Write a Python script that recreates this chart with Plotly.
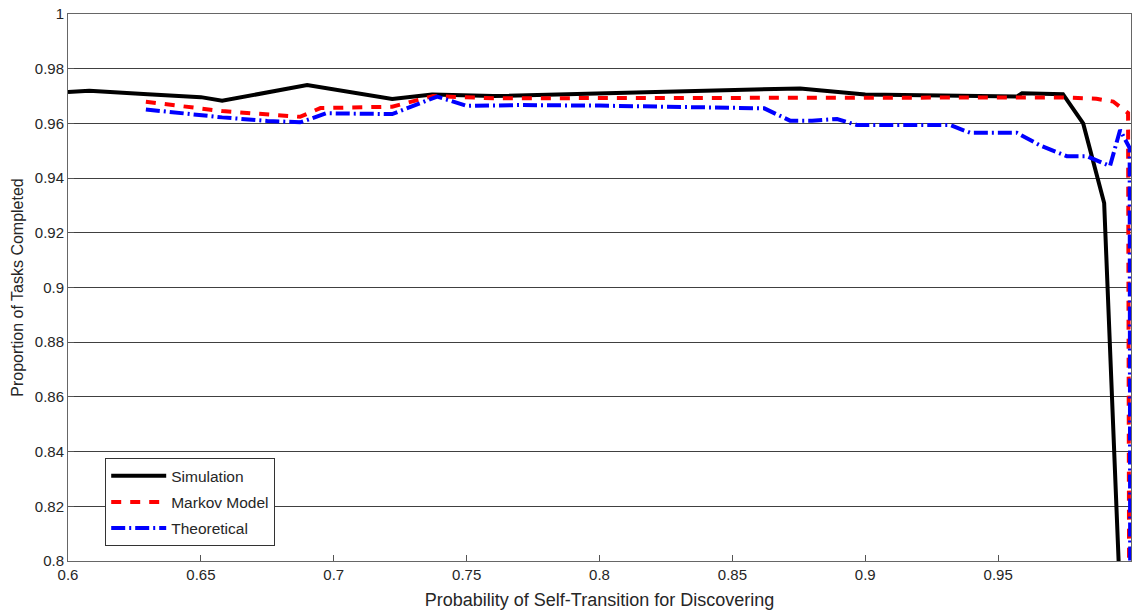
import plotly.graph_objects as go

# Simulation (black solid)
sim_x = [0.6, 0.608, 0.63, 0.65, 0.658, 0.69, 0.722, 0.737, 0.76, 0.8, 0.84, 0.8755, 0.9, 0.93, 0.957, 0.959, 0.9744, 0.982, 0.9899, 0.997]
sim_y = [0.9715, 0.9719, 0.9707, 0.9696, 0.9683, 0.974, 0.9689, 0.9706, 0.9700, 0.9710, 0.9722, 0.9728, 0.9706, 0.9700, 0.9698, 0.9710, 0.9707, 0.960, 0.9309, 0.76]

# Markov Model (red dashed)
markov_x = [0.6293, 0.658, 0.6873, 0.695, 0.722, 0.7374, 0.76, 0.8, 0.9, 0.975, 0.987, 0.9933, 0.9989, 0.9995]
markov_y = [0.9679, 0.9645, 0.9624, 0.9656, 0.9661, 0.9700, 0.9692, 0.9693, 0.9694, 0.9695, 0.969, 0.968, 0.9638, 0.70]

# Theoretical (blue dash-dot)
theo_x = [0.6293, 0.658, 0.675, 0.6873, 0.692, 0.697, 0.722, 0.7389, 0.7501, 0.77, 0.8, 0.85, 0.862, 0.8717, 0.88,
          0.8894, 0.8969, 0.9319, 0.9394, 0.957, 0.9655, 0.9759, 0.9834, 0.9921, 0.9959, 0.9995, 0.9998]
theo_y = [0.9651, 0.9622, 0.9609, 0.9604, 0.9619, 0.9637, 0.9634, 0.9698, 0.9664, 0.9667, 0.9665, 0.9657, 0.9655, 0.961, 0.961,
          0.9616, 0.9594, 0.9594, 0.9566, 0.9566, 0.9521, 0.948, 0.948, 0.9444, 0.9576, 0.951, 0.70]

x_ticks = [0.6, 0.65, 0.7, 0.75, 0.8, 0.85, 0.9, 0.95, 1.0]
x_labels = ["0.6", "0.65", "0.7", "0.75", "0.8", "0.85", "0.9", "0.95", "1"]
y_ticks = [0.8, 0.82, 0.84, 0.86, 0.88, 0.9, 0.92, 0.94, 0.96, 0.98, 1.0]
y_labels = ["0.8", "0.82", "0.84", "0.86", "0.88", "0.9", "0.92", "0.94", "0.96", "0.98", "1"]

fig = go.Figure()
fig.add_trace(go.Scatter(x=sim_x, y=sim_y, mode="lines", name="Simulation", legendgroup="a",
                         line=dict(color="black", width=4)))
fig.add_trace(go.Scatter(x=markov_x, y=markov_y, mode="lines", name="Markov Model", legendgroup="b",
                         line=dict(color="#ff0000", width=4, dash="10px,9px")))
fig.add_trace(go.Scatter(x=theo_x, y=theo_y, mode="lines", name="Theoretical", legendgroup="c",
                         line=dict(color="#0000ff", width=4, dash="14px,4px,2px,4px")))

font = "Liberation Sans, Arial, sans-serif"
fig.update_layout(
    width=1134, height=613,
    margin=dict(l=68, r=3, t=14, b=52),
    paper_bgcolor="white", plot_bgcolor="white",
    font=dict(family=font, size=15, color="#262626"),
    legend=dict(x=0.035, y=0.188, xanchor="left", yanchor="top",
                bordercolor="#333333", borderwidth=1, bgcolor="white",
                font=dict(size=15.5, color="#262626"), tracegroupgap=3,
                traceorder="grouped", itemwidth=55),
    showlegend=True,
)
fig.update_xaxes(range=[0.6, 1.0], tickvals=x_ticks, ticktext=x_labels,
                 showgrid=False, zeroline=False, ticks="inside", ticklen=6, tickcolor="#555",
                 showline=True, linecolor="#666", linewidth=1, mirror=True,
                 title=dict(text="Probability of Self-Transition for Discovering",
                            font=dict(size=18, color="#262626"), standoff=11))
fig.update_yaxes(range=[0.8, 1.0], tickvals=y_ticks, ticktext=y_labels,
                 showgrid=True, gridcolor="#404040", gridwidth=1, zeroline=False,
                 ticks="inside", ticklen=6, tickcolor="#555",
                 showline=True, linecolor="#666", linewidth=1, mirror=True,
                 title=dict(text="Proportion of Tasks Completed",
                            font=dict(size=16, color="#262626"), standoff=7))

fig.write_html("out.html")
